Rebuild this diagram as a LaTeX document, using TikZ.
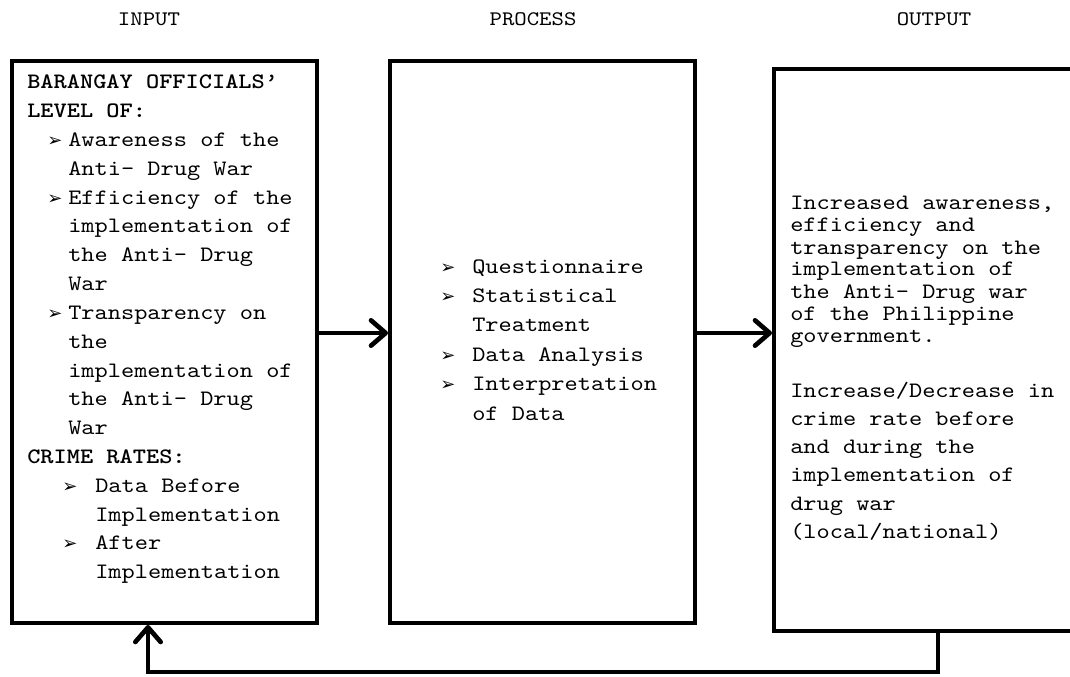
\documentclass[tikz,border=0pt]{standalone}
\usepackage{fontspec}
\setmainfont{lmmono10-regular.otf}[BoldFont=lmmonolt10-bold.otf, FakeStretch=1.143]
\newfontfamily\dejavu{DejaVu Sans}
\usetikzlibrary{arrows.meta,fit}
\newcommand{\bul}{{\dejavu\fontsize{13.5}{13.5}\selectfont ➢}}
\newcommand{\bi}{\hspace*{15pt}\makebox[15.75pt][l]{\bul}}
\newcommand{\ci}{\hspace*{30.75pt}}
\newcommand{\bj}{\hspace*{26.25pt}\makebox[24.75pt][l]{\bul}}
\newcommand{\cj}{\hspace*{51pt}}
\newcommand{\bk}{\makebox[24pt][l]{\bul}}
\newcommand{\ck}{\hspace*{24pt}}
\tikzset{
  box/.style={draw, line width=3pt, inner sep=0pt},
  txt/.style={anchor=base west, inner sep=0pt, font=\fontsize{16.5}{20}\selectfont},
  hdr/.style={anchor=base, inner sep=0pt, font=\fontsize{15.5}{18}\selectfont},
  arr/.style={line width=3pt, -{Straight Barb[length=11pt,width=19pt,line width=3.5pt,round]}}
}
\begin{document}
\begin{tikzpicture}[x=0.75pt,y=-0.75pt]
\useasboundingbox (0,0) rectangle (1070,677);
% headers
\node[hdr] (hin) at (149,26) {INPUT};
\node[hdr] (hproc) at (533,26) {PROCESS};
\node[hdr] (hout) at (934,26) {OUTPUT};
% boxes
\node[box, fit={(12,61)(317,623)}] (inbox) {};
\node[box, fit={(390,61)(695,623)}] (procbox) {};
\node[box, fit={(774,69)(1085,631)}] (outbox) {};
% input text
\foreach \t [count=\i] in {
  {\bfseries BARANGAY OFFICIALS’},
  {\bfseries LEVEL OF:},
  {\bi Awareness of the},
  {\ci Anti- Drug War},
  {\bi Efficiency of the},
  {\ci implementation of},
  {\ci the Anti- Drug},
  {\ci War},
  {\bi Transparency on},
  {\ci the},
  {\ci implementation of},
  {\ci the Anti- Drug},
  {\ci War},
  {\bfseries CRIME RATES:},
  {\bj Data Before},
  {\cj Implementation},
  {\bj After},
  {\cj Implementation}}
  \node[txt] (in\i) at (27,{89+(\i-1)*28.8}) {\t};
% process text
\foreach \t [count=\i] in {
  {\bk Questionnaire},
  {\bk Statistical},
  {\ck Treatment},
  {\bk Data Analysis},
  {\bk Interpretation},
  {\ck of Data}}
  \node[txt] (pr\i) at (440,{273+(\i-1)*29.4}) {\t};
% output text
\foreach \t [count=\i] in {
  {Increased awareness,},
  {efficiency and},
  {transparency on the},
  {implementation of},
  {the Anti- Drug war},
  {of the Philippine},
  {government.}}
  \node[txt] (oa\i) at (790,{210+(\i-1)*22}) {\t};
\foreach \t [count=\i] in {
  {Increase/Decrease in},
  {crime rate before},
  {and during the},
  {implementation of},
  {drug war},
  {(local/national)}}
  \node[txt] (ob\i) at (790,{397+(\i-1)*28.3}) {\t};
% connectors
\coordinate (ay) at (0,333);
\coordinate (fbR) at (938,672);
\coordinate (fbL) at (148,672);
\draw[arr] (inbox.east |- ay) -- (procbox.west |- ay);
\draw[arr] (procbox.east |- ay) -- (outbox.west |- ay);
\draw[arr] (outbox.south -| fbR) -- (fbR) -- (fbL) -- (inbox.south -| fbL);
\end{tikzpicture}
\end{document}
